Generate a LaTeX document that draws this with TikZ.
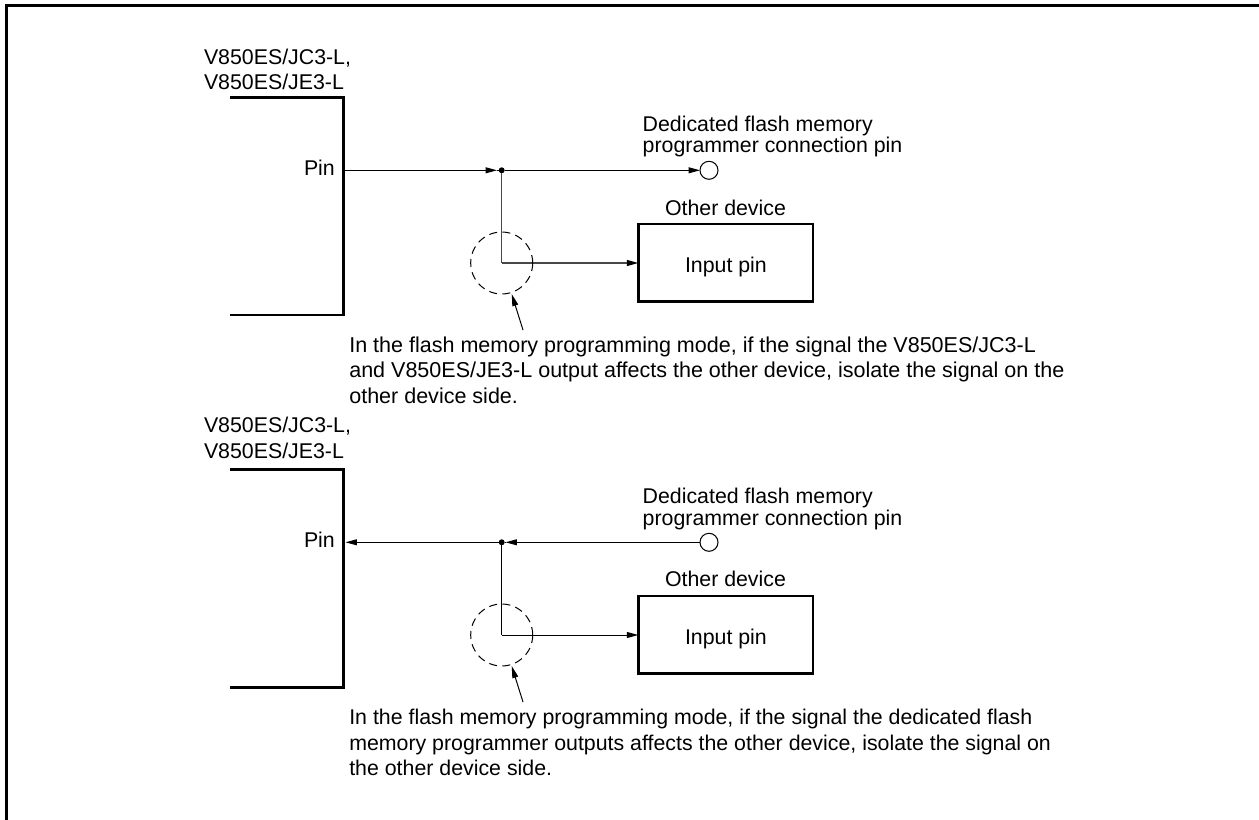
\documentclass[tikz,border=0pt]{standalone}
\usepackage{fontspec}
\setmainfont{Liberation Sans}
\usetikzlibrary{arrows.meta}
\tikzset{
  x=0.75pt,y=-0.75pt,
  txt/.style={inner sep=0pt,outer sep=0pt,anchor=base west,font=\fontsize{16}{19}\selectfont},
  txtw/.style={txt,font=\fontsize{16.14}{19}\selectfont},
  heavy/.style={line width=1.9pt,line cap=butt,line join=miter},
  frameline/.style={line width=2.25pt},
  wire/.style={line width=0.75pt},
  greywire/.style={line width=0.95pt,draw=black!72},
  tipped/.style={wire,-{Triangle[length=8.5pt,width=4.4pt]}},
  greytipped/.style={greywire,-{Triangle[length=8.5pt,width=4.4pt,color=black,fill=black]}},
  devbox/.style={draw,line width=1.9pt,minimum width=131pt,minimum height=58.3pt,inner sep=0pt,outer sep=0pt,anchor=north west},
  pinc/.style={circle,draw,line width=0.75pt,minimum size=13.5pt,inner sep=0pt,outer sep=0pt,fill=white},
  dotj/.style={circle,fill=black,minimum size=4.5pt,inner sep=0pt,outer sep=0pt},
  isol/.style={circle,draw,dash pattern=on 6pt off 4pt,line width=0.75pt,minimum size=46.5pt,inner sep=0pt,outer sep=0pt},
  pointer/.style={line width=0.75pt,-{Triangle[length=9pt,width=4.4pt]}},
}
\begin{document}
\begin{tikzpicture}
\useasboundingbox (0,0) rectangle (1259,820);
\coordinate (fb) at (6.5,820);
\coordinate (fc) at (6.5,5.5);
\coordinate (fr) at (1259,5.5);
\draw[frameline] (fb) -- (fc) -- (fr);

% upper diagram
\node[txt] (t1) at (204,64.5) {V850ES/JC3-L,};
\node[txt] (t2) at (204,90) {V850ES/JE3-L};
\coordinate (c1a) at (230,97.7);
\coordinate (c1b) at (343.5,97.7);
\coordinate (c1c) at (343.5,315);
\coordinate (c1d) at (230,315);
\draw[heavy] (c1a) -- (c1b) -- (c1c) -- (c1d);
\node[txt] (p1) at (304,175.7) {Pin};
\coordinate (pin1) at (343.5,170.3);
\node[dotj] (j1) at (501.7,170.3) {};
\node[pinc] (o1) at (709,170.3) {};
\coordinate (a1) at (497,170.3);
\coordinate (a1b) at (700,170.3);
\node[txt] (d1) at (642.7,131.7) {Dedicated flash memory};
\node[txt] (d1b) at (642.7,152.7) {programmer connection pin};
\node[txt] (od1) at (665,215) {Other device};
\node[devbox] (b1) at (638.3,224) {};
\node[txt] (i1) at (685,272) {Input pin};
\coordinate (k1) at (501.7,263);
\coordinate (k1e) at (638.3,263);
\draw[tipped] (pin1) -- (a1);
\draw[wire] (a1) -- (j1);
\draw[tipped] (j1) -- (a1b);
\draw[wire] (a1b) -- (o1);
\draw[greywire] (j1) -- (k1);
\draw[greytipped] (k1) -- (k1e);
\node[isol] (ci1) at (501.7,263) {};
\coordinate (nt1) at (523,330);
\coordinate (nh1) at (511.7,294);
\draw[pointer] (nt1) -- (nh1);
\node[txtw] (n1a) at (349.3,352.7) {In the flash memory programming mode, if the signal the V850ES/JC3-L};
\node[txtw] (n1b) at (349.3,377.7) {and V850ES/JE3-L output affects the other device, isolate the signal on the};
\node[txtw] (n1c) at (349.3,403) {other device side.};

% lower diagram
\node[txt] (t3) at (204,432.7) {V850ES/JC3-L,};
\node[txt] (t4) at (204,458.3) {V850ES/JE3-L};
\coordinate (c2a) at (230,469.5);
\coordinate (c2b) at (343.5,469.5);
\coordinate (c2c) at (343.5,687.5);
\coordinate (c2d) at (230,687.5);
\draw[heavy] (c2a) -- (c2b) -- (c2c) -- (c2d);
\node[txt] (p2) at (304,547.7) {Pin};
\coordinate (pin2) at (345.5,542.3);
\node[dotj] (j2) at (501.7,542.3) {};
\node[pinc] (o2) at (709,542.3) {};
\coordinate (a2) at (505.5,542.3);
\node[txt] (d2) at (642.7,503.3) {Dedicated flash memory};
\node[txt] (d2b) at (642.7,525) {programmer connection pin};
\node[txt] (od2) at (665,586.7) {Other device};
\node[devbox] (b2) at (638.3,596) {};
\node[txt] (i2) at (685,644.3) {Input pin};
\coordinate (k2) at (501.7,635);
\coordinate (k2e) at (638.3,635);
\draw[tipped] (j2) -- (pin2);
\draw[tipped] (o2) -- (a2);
\draw[wire] (a2) -- (j2);
\draw[wire] (j2) -- (k2);
\draw[tipped] (k2) -- (k2e);
\node[isol] (ci2) at (501.7,635) {};
\coordinate (nt2) at (523,702);
\coordinate (nh2) at (511.7,666);
\draw[pointer] (nt2) -- (nh2);
\node[txt] (n2a) at (349.3,724) {In the flash memory programming mode, if the signal the dedicated flash};
\node[txt] (n2b) at (349.3,750) {memory programmer outputs affects the other device, isolate the signal on};
\node[txt] (n2c) at (349.3,775.5) {the other device side.};
\end{tikzpicture}
\end{document}
